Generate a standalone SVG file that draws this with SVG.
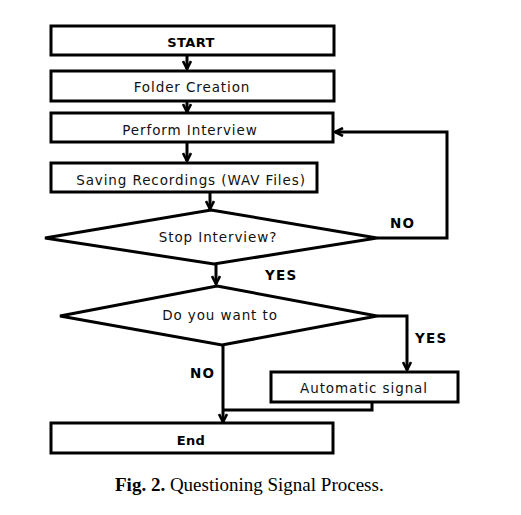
<svg xmlns="http://www.w3.org/2000/svg" width="521" height="515" viewBox="0 0 521 515">
<style>
.box{fill:#fff;stroke:#000;stroke-width:3}
.t{font-family:"DejaVu Sans",Verdana,sans-serif;font-size:13.5px;letter-spacing:0.9px;fill:#111;text-anchor:middle}
.b{font-family:"DejaVu Sans",Verdana,sans-serif;font-size:13px;font-weight:bold;letter-spacing:0.4px;fill:#000;text-anchor:middle}
.c{fill:none;stroke:#000;stroke-width:3}
.lbl{font-family:"DejaVu Sans",Verdana,sans-serif;font-size:13.5px;font-weight:bold;letter-spacing:1.2px;fill:#000}
.cap{font-family:"Liberation Serif","Times New Roman",serif;font-size:19px;fill:#000}
</style>
<defs>
<marker id="ah" viewBox="0 0 10 10" refX="9" refY="5" markerWidth="10" markerHeight="10" markerUnits="userSpaceOnUse" orient="auto">
<polyline points="1,1 9,5 1,9" fill="none" stroke="#000" stroke-width="2.6"/>
</marker>
</defs>
<rect width="521" height="515" fill="#fff"/>
<g id="connectors">
<line class="c" x1="187" y1="55" x2="187" y2="69" marker-end="url(#ah)"/>
<line class="c" x1="187" y1="101" x2="187" y2="112" marker-end="url(#ah)"/>
<line class="c" x1="187" y1="142" x2="187" y2="161" marker-end="url(#ah)"/>
<line class="c" x1="210" y1="192" x2="210" y2="209" marker-end="url(#ah)"/>
<polyline class="c" points="377,238 447,238 447,132 335,132" marker-end="url(#ah)"/>
<line class="c" x1="216" y1="264" x2="216" y2="284" marker-end="url(#ah)"/>
<polyline class="c" points="377,316 407,316 407,370" marker-end="url(#ah)"/>
<line class="c" x1="223" y1="345" x2="223" y2="422" marker-end="url(#ah)"/>
<polyline class="c" points="372,402 372,410 223,410"/>
</g>
<g id="start"><rect class="box" x="51" y="26" width="283" height="29"/><text class="b" x="191" y="47">START</text></g>
<g id="folder"><rect class="box" x="51" y="71" width="283" height="30"/><text class="t" x="192" y="92">Folder Creation</text></g>
<g id="perform"><rect class="box" x="51" y="113" width="282" height="29"/><text class="t" x="190" y="135">Perform Interview</text></g>
<g id="saving"><rect class="box" x="51" y="163" width="266" height="29"/><text class="t" x="191" y="185">Saving Recordings (WAV Files)</text></g>
<g id="stop"><polygon class="box" points="211,210 377,238 214,264 45,238"/><text class="t" x="218" y="242">Stop Interview?</text></g>
<g id="dowant"><polygon class="box" points="217,286 377,316 222,345 60,316"/><text class="t" x="220" y="320">Do you want to</text></g>
<g id="auto"><rect class="box" x="271" y="372" width="187" height="30"/><text class="t" x="364" y="393">Automatic signal</text></g>
<g id="end"><rect class="box" x="51" y="423" width="282" height="30"/><text class="b" x="191" y="445">End</text></g>
<text class="lbl" x="390" y="228">NO</text>
<text class="lbl" x="265" y="280">YES</text>
<text class="lbl" x="415" y="343">YES</text>
<text class="lbl" x="190" y="378">NO</text>
<text class="cap" x="115" y="491"><tspan font-weight="bold">Fig. 2.</tspan> Questioning Signal Process.</text>
</svg>
